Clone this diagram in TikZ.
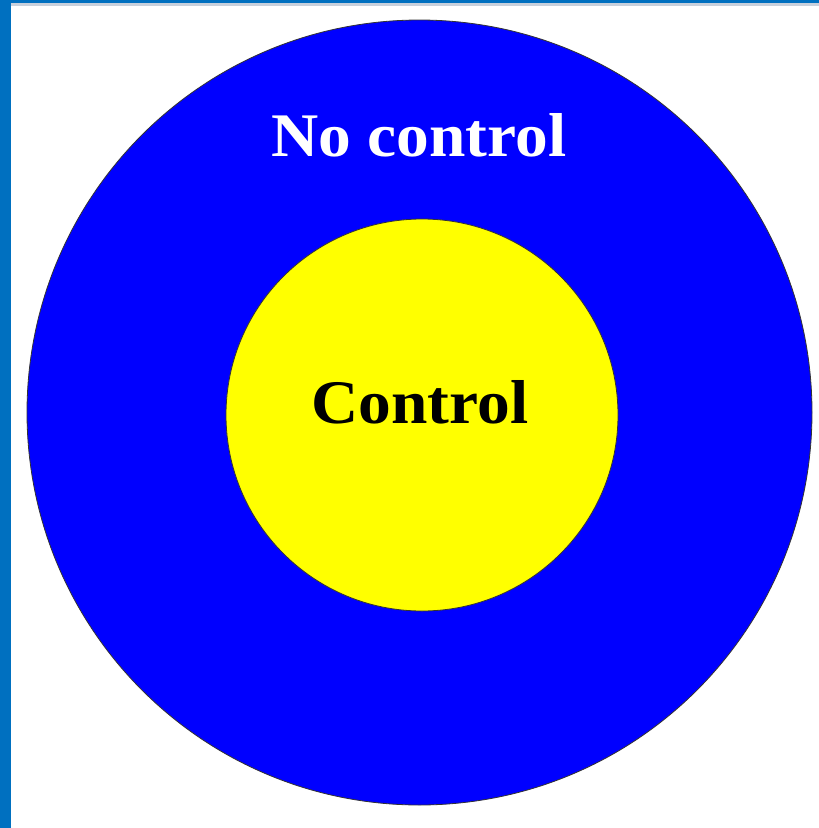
\documentclass[tikz,border=0pt]{standalone}
\usepackage{fontspec}
\setmainfont{Liberation Serif}
\definecolor{barblue}{HTML}{0070C0}
\definecolor{lineg}{HTML}{C8D0DC}
\definecolor{pureblue}{HTML}{0000FF}
\definecolor{pureyellow}{HTML}{FFFF00}
\begin{document}
\begin{tikzpicture}[x=1pt,y=-1pt,
  ring/.style={circle,draw=black!80,line width=0.8pt,inner sep=0pt},
  lbl/.style={font=\fontsize{62}{62}\selectfont\bfseries,inner sep=0pt,anchor=base}]
\useasboundingbox (0,0) rectangle (819,828);
\fill[white] (0,0) rectangle (819,828);
\fill[lineg] (0,3) rectangle (819,5.5);
\fill[barblue] (0,0) rectangle (819,3);
\fill[barblue] (0,0) rectangle (11,828);
\node[ring,fill=pureblue,minimum size=785pt] (outer) at (419.5,412.5) {};
\node[ring,fill=pureyellow,minimum size=392pt] (inner) at (422,415) {};
\node[lbl,text=white] (nc) at (419,156) {\scalebox{1.055}[1]{No control}};
\node[lbl,text=black] (c) at (420,423) {\scalebox{1.055}[1]{Control}};
\end{tikzpicture}
\end{document}
